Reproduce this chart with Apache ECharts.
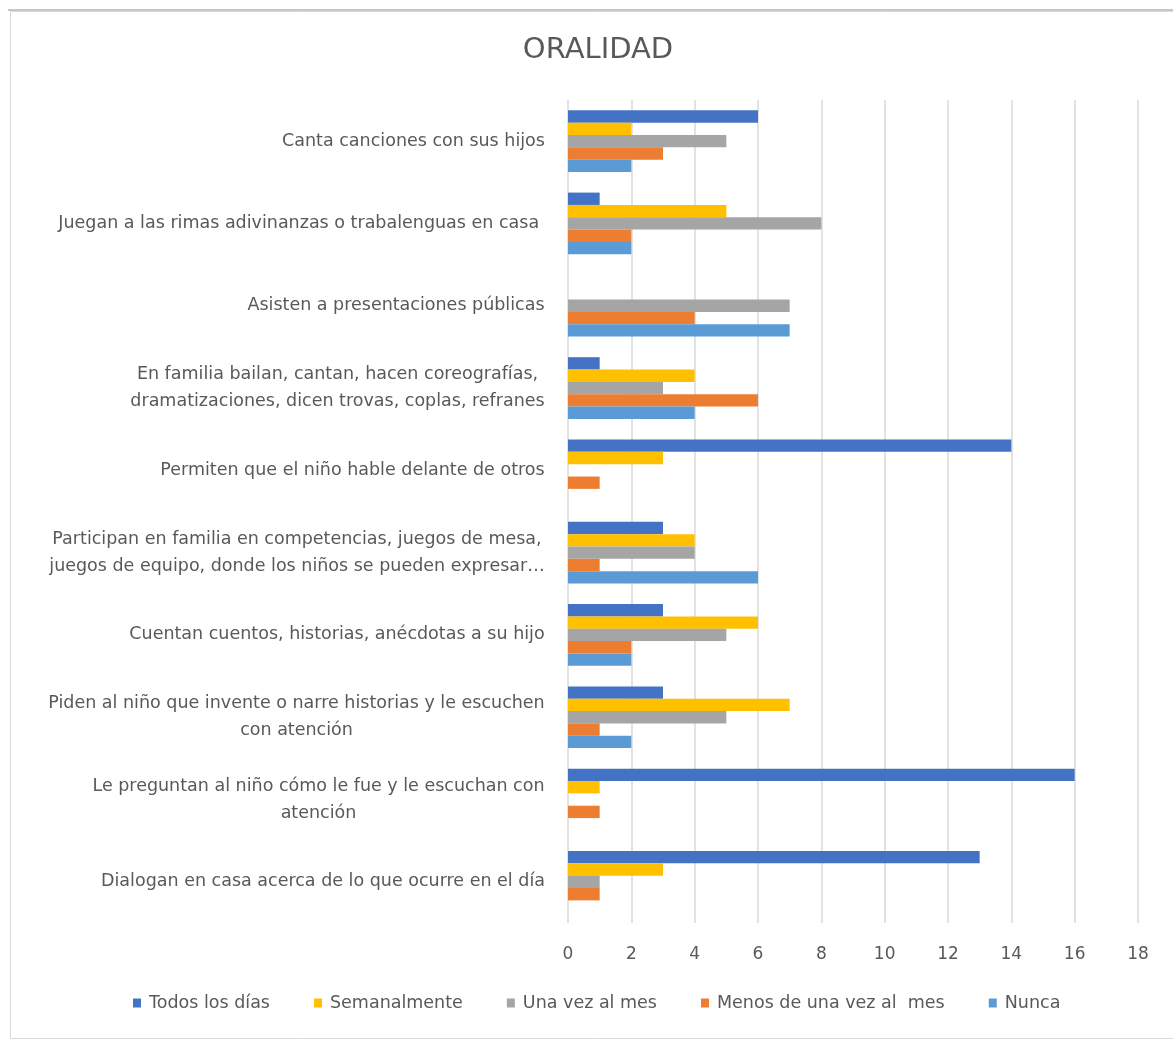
<!DOCTYPE html>
<html>
<head>
<meta charset="utf-8">
<title>ORALIDAD</title>
<script src="https://cdn.jsdelivr.net/npm/echarts@6/dist/echarts.min.js"></script>
<style>
  html, body { margin: 0; padding: 0; background: #ffffff; }
  #chart { width: 1173px; height: 1042px; }
</style>
</head>
<body>
<div id="chart"></div>
<script>
// Activities, listed top to bottom
const categories = [
  'Canta canciones con sus hijos',
  'Juegan a las rimas adivinanzas o trabalenguas en casa ',
  'Asisten a presentaciones públicas',
  'En familia bailan, cantan, hacen coreografías,\ndramatizaciones, dicen trovas, coplas, refranes',
  'Permiten que el niño hable delante de otros',
  'Participan en familia en competencias, juegos de mesa,\njuegos de equipo, donde los niños se pueden expresar…',
  'Cuentan cuentos, historias, anécdotas a su hijo',
  'Piden al niño que invente o narre historias y le escuchen\ncon atención',
  'Le preguntan al niño cómo le fue y le escuchan con\natención',
  'Dialogan en casa acerca de lo que ocurre en el día'
];

const seriesNames = ['Todos los días', 'Semanalmente', 'Una vez al mes', 'Menos de una vez al  mes', 'Nunca'];

const todosLosDias   = [6, 1, 0, 1, 14, 3, 3, 3, 16, 13];
const semanalmente   = [2, 5, 0, 4, 3, 4, 6, 7, 1, 3];
const unaVezAlMes    = [5, 8, 7, 3, 0, 4, 5, 5, 0, 1];
const menosDeUnaVez  = [3, 2, 4, 6, 1, 1, 2, 1, 1, 1];
const nunca          = [2, 2, 7, 4, 0, 6, 2, 2, 0, 0];

const xTicks = [0, 2, 4, 6, 8, 10, 12, 14, 16, 18];

const colors = ['#4472C4', '#FFC000', '#A5A5A5', '#ED7D31', '#5B9BD5'];
const FONT = 'DejaVu Sans';
const LABEL_SIZE = 17.5;
const TEXT_COLOR = '#595959';

// Multi-line category labels are centred line by line; measure each block
// so a rich-text box of the right width can centre its lines.
const ctx = document.createElement('canvas').getContext('2d');
ctx.font = LABEL_SIZE + 'px "' + FONT + '"';
const rich = {};
categories.forEach((c, i) => {
  const w = Math.max(...c.split('\n').map(l => ctx.measureText(l).width));
  rich['c' + i] = {
    width: Math.ceil(w) + 2,
    align: 'center',
    fontFamily: FONT,
    fontSize: LABEL_SIZE,
    color: TEXT_COLOR,
    lineHeight: 27
  };
});

const chart = echarts.init(document.getElementById('chart'), null, { renderer: 'canvas' });

const data = [todosLosDias, semanalmente, unaVezAlMes, menosDeUnaVez, nunca];

chart.setOption({
  backgroundColor: '#ffffff',
  animation: false,
  textStyle: { fontFamily: FONT },
  title: {
    text: 'ORALIDAD',
    left: 593,
    textAlign: 'center',
    top: 31,
    textStyle: { fontFamily: FONT, fontSize: 29, fontWeight: 'normal', color: TEXT_COLOR }
  },
  legend: {
    data: seriesNames.map((n, i) => i === 3
      ? { name: n, textStyle: { width: 271 } }
      : n),
    bottom: 25,
    left: 128,
    icon: 'rect',
    itemWidth: 8,
    itemHeight: 9,
    itemGap: 44,
    textStyle: { fontFamily: FONT, fontSize: LABEL_SIZE, color: TEXT_COLOR, padding: [0, 0, 0, 3] }
  },
  grid: { left: 568, right: 35, top: 100, bottom: 119, containLabel: false },
  xAxis: {
    type: 'value',
    min: xTicks[0],
    max: xTicks[xTicks.length - 1],
    interval: 2,
    axisLine: { show: false },
    axisTick: { show: false },
    axisLabel: { fontFamily: FONT, fontSize: 17, color: TEXT_COLOR, margin: 23 },
    splitLine: { show: true, lineStyle: { color: '#d9d9d9', width: 1.5 } }
  },
  yAxis: {
    type: 'category',
    data: categories,
    inverse: true,
    axisLine: { show: false },
    axisTick: { show: false },
    axisLabel: {
      margin: 22,
      interval: 0,
      rich: rich,
      formatter: (value, idx) => value.split('\n').map(l => '{c' + idx + '|' + l + '}').join('\n')
    }
  },
  series: seriesNames.map((name, i) => ({
    name: name,
    type: 'bar',
    data: data[i],
    itemStyle: { color: colors[i] },
    barGap: '0%',
    barCategoryGap: '25%'
  })),
  graphic: [
    {
      type: 'rect',
      silent: true,
      shape: { x: 10.5, y: 11.5, width: 1200, height: 1027 },
      style: { fill: 'none', stroke: '#d9d9d9', lineWidth: 1 }
    },
    {
      type: 'line',
      silent: true,
      shape: { x1: 8, y1: 10, x2: 1173, y2: 10 },
      style: { stroke: '#c6c6c6', lineWidth: 2 }
    }
  ]
});
</script>
</body>
</html>
